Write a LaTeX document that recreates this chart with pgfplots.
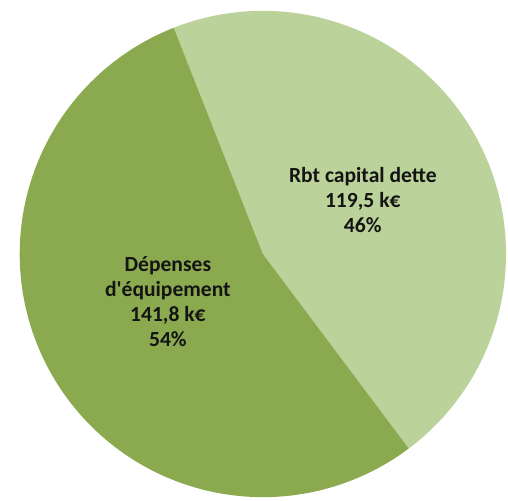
\documentclass[border=0pt]{standalone}
\usepackage{pgfplots}
\pgfplotsset{compat=1.18}
\usepackage{pgfplotstable}
\usepackage{fontspec}
\setmainfont{Carlito}[Ligatures=TeXOff]
\definecolor{darkg}{HTML}{8BAA4F}
\definecolor{lightg}{HTML}{BBD29A}
\pgfplotstableread{
label value
Rbt 119.5
Dep 141.8
}\piedata
\begin{document}
\pgfplotstablegetelem{0}{value}\of\piedata\let\va\pgfplotsretval
\pgfplotstablegetelem{1}{value}\of\piedata\let\vb\pgfplotsretval
\pgfmathsetmacro{\fa}{\va/(\va+\vb)}
\pgfmathsetmacro{\startA}{111.5}
\pgfmathsetmacro{\endA}{\startA-360*\fa}
\pgfmathsetmacro{\endB}{\startA-360}
\begin{tikzpicture}
\begin{axis}[
  scale only axis, width=507bp, height=508bp,
  xmin=0, xmax=507, ymin=0, ymax=508,
  axis line style={draw=none}, ticks=none,
  xlabel={}, ylabel={}, clip=false,
]
\addplot[fill=lightg, draw=none, domain=\startA:\endA, samples=150, variable=\t]
  ({258+247*cos(t)},{250+247*sin(t)}) -- (axis cs:258,250) -- cycle;
\addplot[fill=darkg, draw=none, domain=\endA:\endB, samples=150, variable=\t]
  ({258+247*cos(t)},{250+247*sin(t)}) -- (axis cs:258,250) -- cycle;
\node[align=center, anchor=base, inner sep=0pt, text=black!92, font=\bfseries\fontsize{22}{25.5}\selectfont]
  at (axis cs:359.5,272) {Rbt capital dette\\119,5 k€\\46\%};
\node[align=center, anchor=base, inner sep=0pt, text=black!92, font=\bfseries\fontsize{22}{25.5}\selectfont]
  at (axis cs:161.5,156.3) {Dépenses\\d'équipement\\141,8 k€\\54\%};
\end{axis}
\end{tikzpicture}
\end{document}
